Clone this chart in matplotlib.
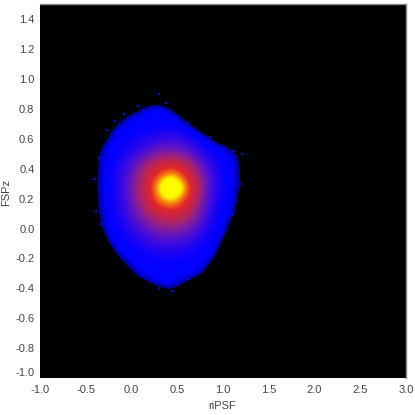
import numpy as np
import matplotlib
matplotlib.use("Agg")
import matplotlib.pyplot as plt
from matplotlib.colors import LinearSegmentedColormap

plt.rcParams['font.family'] = ['Liberation Sans', 'DejaVu Sans']

x_centers = [-.45, -.35, -.25, -.15, -.05, .05, .15, .25, .35, .45, .55, .65, .75, .85, .95, 1.05, 1.15, 1.25]
y_centers = [.85, .80, .75, .70, .65, .60, .55, .50, .45, .40, .35, .30, .25, .20, .15, .10, .05, 0,
             -.05, -.10, -.15, -.20, -.25, -.30, -.35, -.40, -.45]
density = [
    [0, 0, 0, 0, 0, 0, 0, 2, 0, 0, 0, 0, 0, 0, 0, 0, 0, 0],
    [0, 0, 0, 0, 0, 2, 8, 10, 9, 3, 0, 0, 0, 0, 0, 0, 0, 0],
    [0, 0, 0, 1, 5, 10, 10, 11, 11, 10, 3, 0, 0, 0, 0, 0, 0, 0],
    [0, 0, 0, 5, 10, 11, 12, 12, 12, 12, 10, 3, 0, 0, 0, 0, 0, 0],
    [0, 0, 3, 10, 11, 12, 13, 14, 15, 15, 14, 11, 4, 0, 0, 0, 0, 0],
    [0, 0, 6, 11, 12, 14, 16, 18, 19, 19, 18, 15, 12, 6, 0, 0, 0, 0],
    [0, 3, 10, 12, 14, 16, 19, 23, 26, 26, 24, 20, 15, 12, 8, 5, 0, 0],
    [0, 5, 11, 13, 16, 20, 25, 31, 35, 35, 32, 26, 19, 14, 11, 9, 5, 0],
    [0, 6, 11, 14, 19, 26, 34, 44, 52, 54, 48, 36, 25, 17, 13, 11, 6, 0],
    [0, 6, 12, 15, 21, 30, 43, 60, 72, 75, 66, 46, 30, 20, 14, 11, 7, 0],
    [1, 6, 12, 16, 23, 34, 50, 72, 88, 95, 80, 58, 34, 22, 15, 11, 7, 0],
    [1, 7, 12, 16, 24, 36, 56, 82, 100, 100, 95, 68, 38, 23, 15, 11, 7, 0],
    [1, 6, 12, 16, 24, 36, 56, 82, 100, 100, 95, 68, 38, 23, 15, 11, 6, 0],
    [0, 6, 12, 16, 23, 34, 52, 76, 90, 96, 82, 60, 34, 22, 14, 11, 5, 0],
    [0, 6, 11, 15, 22, 31, 45, 65, 76, 78, 70, 50, 31, 20, 13, 10, 4, 0],
    [0, 5, 11, 14, 20, 28, 38, 50, 60, 62, 56, 42, 28, 18, 12, 10, 3, 0],
    [0, 4, 11, 14, 18, 24, 31, 38, 44, 45, 41, 33, 24, 16, 12, 6, 0, 0],
    [0, 2, 10, 12, 16, 20, 25, 30, 34, 35, 32, 27, 20, 14, 11, 5, 0, 0],
    [0, 0, 8, 11, 14, 17, 20, 24, 26, 26, 25, 21, 17, 13, 9, 2, 0, 0],
    [0, 0, 4, 11, 12, 14, 17, 19, 20, 20, 19, 17, 14, 12, 6, 0, 0, 0],
    [0, 0, 0, 8, 11, 12, 14, 15, 16, 16, 15, 14, 12, 11, 4, 0, 0, 0],
    [0, 0, 0, 3, 9, 11, 12, 13, 13, 13, 13, 12, 11, 8, 0, 0, 0, 0],
    [0, 0, 0, 0, 4, 10, 11, 11, 12, 12, 11, 11, 10, 3, 0, 0, 0, 0],
    [0, 0, 0, 0, 0, 6, 10, 10, 11, 11, 10, 9, 6, 0, 0, 0, 0, 0],
    [0, 0, 0, 0, 0, 1, 4, 9, 10, 10, 7, 3, 0, 0, 0, 0, 0, 0],
    [0, 0, 0, 0, 0, 0, 0, 1, 5, 5, 2, 0, 0, 0, 0, 0, 0, 0],
    [0, 0, 0, 0, 0, 0, 0, 0, 0, 0, 0, 0, 0, 0, 0, 0, 0, 0],
]
# isolated blue cells read just outside the rim of the cloud
stray_x = [-0.41, -0.39, -0.35, -0.27, -0.18, -0.08, 0.07, 0.30, 0.38, 0.62, 0.86, 1.12, 1.21, 1.19, 1.10,
           0.98, 0.86, 0.62, 0.44, 0.30, 0.13, -0.04, -0.20, -0.33]
stray_y = [0.33, 0.12, 0.47, 0.66, 0.72, 0.77, 0.82, 0.90, 0.84, 0.71, 0.61, 0.52, 0.50, 0.30, 0.10,
           -0.03, -0.17, -0.34, -0.42, -0.40, -0.31, -0.20, -0.08, 0.03]
x_ticks = [-1.0, -0.5, 0.0, 0.5, 1.0, 1.5, 2.0, 2.5, 3.0]
y_ticks = [-1.0, -0.8, -0.6, -0.4, -0.2, 0.0, 0.2, 0.4, 0.6, 0.8, 1.0, 1.2, 1.4]

def c(r, g, b):
    return (r / 255, g / 255, b / 255)

cmap = LinearSegmentedColormap.from_list("heat", [
    (0.00, c(0, 0, 0)), (0.049, c(0, 0, 0)), (0.05, c(0, 0, 130)), (0.09, c(0, 0, 255)),
    (0.12, c(5, 0, 255)), (0.20, c(60, 10, 225)), (0.30, c(115, 25, 175)),
    (0.40, c(160, 35, 120)), (0.50, c(190, 35, 80)), (0.70, c(225, 40, 40)),
    (0.84, c(250, 130, 15)), (0.93, c(255, 245, 0)), (1.00, c(255, 255, 0))], N=1024)

W, H = 415, 415
fig = plt.figure(figsize=(W / 100, H / 100), dpi=100, facecolor='white')
ax = fig.add_axes([40 / W, 1 - 378 / H, 366 / W, 373.5 / H], facecolor='black')
dx, dy = 0.05, 0.025
ax.imshow(density, cmap=cmap, vmin=0, vmax=100, aspect='auto', interpolation='bicubic',
          interpolation_stage='data',
          extent=[x_centers[0] - dx, x_centers[-1] + dx, y_centers[-1] - dy, y_centers[0] + dy], zorder=1)
ax.scatter(stray_x, stray_y, s=2.2, marker='s', color=c(0, 0, 255), linewidths=0, zorder=3)
ax.set_xlim(-1.0, 3.0)
ax.set_ylim(-1.0, 1.5)
ax.set_xticks(x_ticks, [f"{v:.1f}" for v in x_ticks])
ax.set_yticks(y_ticks, [f"{v:.1f}" for v in y_ticks])
ax.tick_params(length=0, labelsize=8, labelcolor='#444444', pad=4)
ax.tick_params(axis='x', pad=5)
ax.get_yticklabels()[0].set_va('bottom')
for s in ('left', 'bottom'):
    ax.spines[s].set_visible(False)
for s in ('top', 'right'):
    ax.spines[s].set_color('#888888')
    ax.spines[s].set_linewidth(1)
fig.text(222 / W, 1 - 405.5 / H, "riPSF", ha='center', va='center', fontsize=8, color='#444444')
fig.text(6 / W, 1 - 192 / H, "FSPz", ha='center', va='center', rotation=90, fontsize=8, color='#444444')
fig.savefig("out.png", dpi=100, facecolor='white')
